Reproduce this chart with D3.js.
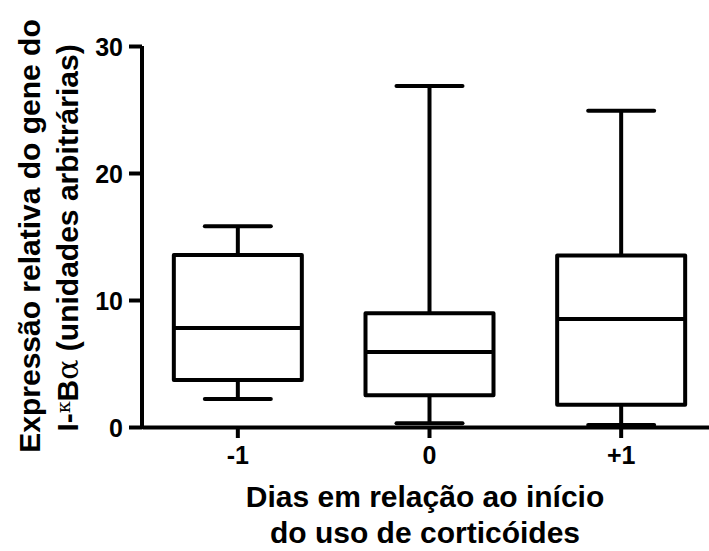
<!DOCTYPE html>
<html>
<head>
<meta charset="utf-8">
<script src="https://cdn.jsdelivr.net/npm/d3@7"></script>
<style>
  body { margin: 0; background: #fff; }
  text { font-family: "Liberation Sans", Arial, sans-serif; font-weight: bold; fill: #000; }
</style>
</head>
<body>
<script>
// values
var groups = ["-1", "0", "+1"];
var whiskerMin = [2.2, 0.3, 0.15];
var q1 = [3.7, 2.5, 1.75];
var median = [7.8, 5.9, 8.5];
var q3 = [13.55, 8.95, 13.5];
var whiskerMax = [15.8, 26.85, 24.9];
var yTicks = [0, 10, 20, 30];

var W = 709, H = 551;
var svg = d3.select("body").append("svg")
  .attr("width", W)
  .attr("height", H);

var x = d3.scaleBand().domain(groups).range([142, 717]);
var y = d3.scaleLinear().domain([0, 30]).range([427, 46]);

var boxW = 128, capW = 66, sw = 4;

// y axis
var yAxis = svg.append("g")
  .attr("transform", "translate(142,0)")
  .call(d3.axisLeft(y).tickValues(yTicks).tickSize(13).tickPadding(6));
yAxis.select(".domain").attr("stroke-width", sw).attr("d", "M0," + y(30) + "V" + (y(0) + sw/2));
yAxis.selectAll(".tick line").attr("stroke-width", sw);
yAxis.selectAll("text").style("font-size", "25px").attr("dy", "0.36em");

// x axis
var xAxis = svg.append("g")
  .attr("transform", "translate(0,427)")
  .call(d3.axisBottom(x).tickSize(11).tickPadding(8).tickSizeOuter(0));
xAxis.select(".domain").attr("stroke-width", sw);
xAxis.selectAll(".tick line").attr("stroke-width", sw);
xAxis.selectAll("text").style("font-size", "25px");

// boxes
var data = groups.map((g, i) => ({g: g, lo: whiskerMin[i], q1: q1[i], med: median[i], q3: q3[i], hi: whiskerMax[i]}));
var bx = svg.append("g").selectAll("g").data(data).join("g")
  .attr("transform", d => "translate(" + (x(d.g) + x.bandwidth()/2) + ",0)");

bx.append("line")
  .attr("y1", d => y(d.lo)).attr("y2", d => y(d.q1))
  .attr("stroke", "#000").attr("stroke-width", sw);
bx.append("line")
  .attr("y1", d => y(d.q3)).attr("y2", d => y(d.hi))
  .attr("stroke", "#000").attr("stroke-width", sw);
bx.append("line")
  .attr("x1", -capW/2).attr("x2", capW/2)
  .attr("y1", d => y(d.hi)).attr("y2", d => y(d.hi))
  .attr("stroke", "#000").attr("stroke-width", sw).attr("stroke-linecap", "round");
bx.append("line")
  .attr("x1", -capW/2).attr("x2", capW/2)
  .attr("y1", d => y(d.lo)).attr("y2", d => y(d.lo))
  .attr("stroke", "#000").attr("stroke-width", sw).attr("stroke-linecap", "round");
bx.append("rect")
  .attr("x", -boxW/2).attr("width", boxW)
  .attr("y", d => y(d.q3)).attr("height", d => y(d.q1) - y(d.q3))
  .attr("fill", "#fff").attr("stroke", "#000").attr("stroke-width", sw)
  .attr("stroke-linejoin", "round");
bx.append("line")
  .attr("x1", -boxW/2).attr("x2", boxW/2)
  .attr("y1", d => y(d.med)).attr("y2", d => y(d.med))
  .attr("stroke", "#000").attr("stroke-width", sw);

// axis titles
var xt = svg.append("text")
  .attr("text-anchor", "middle")
  .style("font-size", "30px");
xt.append("tspan").attr("x", 425).attr("y", 507).text("Dias em relação ao início");
xt.append("tspan").attr("x", 425).attr("y", 543).text("do uso de corticóides");

var yt = svg.append("g").attr("transform", "translate(0,236) rotate(-90)");
yt.append("text")
  .attr("text-anchor", "middle")
  .attr("x", 0).attr("y", 40)
  .style("font-size", "30px")
  .text("Expressão relativa do gene do");
var l2 = yt.append("text")
  .attr("text-anchor", "middle")
  .attr("x", -2).attr("y", 78)
  .style("font-size", "30px");
l2.append("tspan").text("I-");
l2.append("tspan").style("font-size", "19px").style("font-weight", "normal").style("font-family", "'DejaVu Serif', serif").attr("dy", -8).text("κ");
l2.append("tspan").attr("dy", 8).text("B");
l2.append("tspan").style("font-weight", "normal").style("font-family", "'DejaVu Serif', serif").text("α");
l2.append("tspan").text(" (unidades arbitrárias)");
</script>
</body>
</html>
